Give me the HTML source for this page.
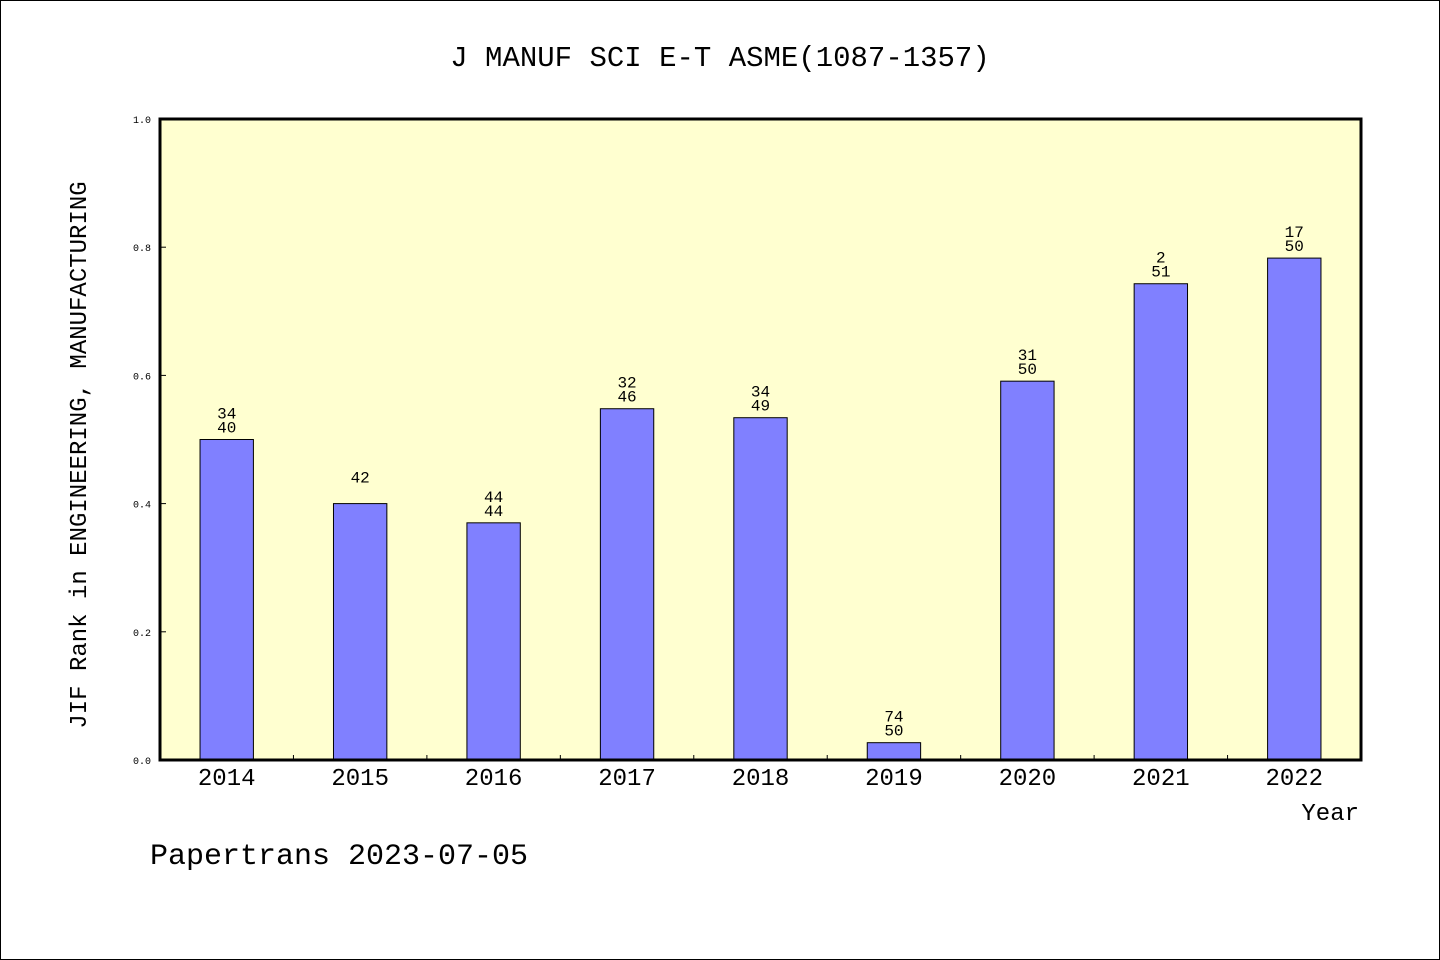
<!DOCTYPE html>
<html><head><meta charset="utf-8"><style>
html,body{margin:0;padding:0;background:#fff}
svg{display:block}
text{font-family:"WenQuanYi Zen Hei","Liberation Mono",monospace;fill:#000}
</style></head><body>
<svg id="chart" width="1440" height="960" xmlns="http://www.w3.org/2000/svg">
<rect x="0.5" y="0.5" width="1439" height="959" fill="#fff" stroke="#000"/>
<text x="720" y="66" font-size="29" text-anchor="middle">J MANUF SCI E-T ASME(1087-1357)</text>
<rect x="160" y="119" width="1201" height="641" fill="#ffffd0"/>
<g id="bars"></g>
<g id="ticks"></g>
<rect x="160" y="119" width="1201" height="641" fill="none" stroke="#000" stroke-width="3"/>
<text transform="translate(86,455) rotate(-90)" font-size="24" text-anchor="middle">JIF Rank in ENGINEERING, MANUFACTURING</text>
<text x="1359" y="820" font-size="24" text-anchor="end">Year</text>
<text x="150" y="864" font-size="30">Papertrans 2023-07-05</text>
</svg>
<script>
const categories=["2014","2015","2016","2017","2018","2019","2020","2021","2022"];
const values=[0.5,0.4,0.37,0.548,0.534,0.027,0.591,0.743,0.783];
const topLabels=["34","42","44","32","34","74","31","2","17"];
const bottomLabels=["40","","44","46","49","50","50","51","50"];
const yTicks=[0,0.2,0.4,0.6,0.8,1.0];
const yTickLabels=["0.0","0.2","0.4","0.6","0.8","1.0"];
const NS="http://www.w3.org/2000/svg";
const X0=160,X1=1361,Y0=760,Y1=119;
const band=(X1-X0)/categories.length;
const xc=i=>X0+band*(i+0.5);
const y=v=>Y0-(Y0-Y1)*v;
function mk(t,a,p){const e=document.createElementNS(NS,t);for(const k in a)e.setAttribute(k,a[k]);p.appendChild(e);return e;}
const gb=document.getElementById('bars'),gt=document.getElementById('ticks');
const bw=band*0.4;
categories.forEach((c,i)=>{
  const r=mk('rect',{x:xc(i)-bw/2,y:y(values[i]),width:bw,height:Y0-y(values[i]),fill:'#8080ff',stroke:'#000','stroke-width':1},gb);
  
  
  const top=y(values[i]);
  const t1=mk('text',{x:xc(i),y:top-21,'font-size':16,'text-anchor':'middle'},gb);t1.textContent=topLabels[i];
  
  
  const t2=mk('text',{x:xc(i),y:top-7,'font-size':16,'text-anchor':'middle'},gb);t2.textContent=bottomLabels[i];
  
  
  const xl=mk('text',{x:xc(i),y:785,'font-size':24,'text-anchor':'middle'},gt);xl.textContent=c;
  
  
  if(i>0){const tk=mk('line',{x1:X0+band*i,x2:X0+band*i,y1:Y0,y2:Y0-5,stroke:'#000'},gt);
  
  }
});
yTicks.forEach((v,i)=>{
  const tk=mk('line',{x1:X0,x2:X0+6,y1:y(v),y2:y(v),stroke:'#000'},gt);
  
  
  const l=mk('text',{x:151,y:y(v)+4,'font-size':10,'text-anchor':'end'},gt);l.textContent=yTickLabels[i];
  
  
});
</script>
</body></html>
